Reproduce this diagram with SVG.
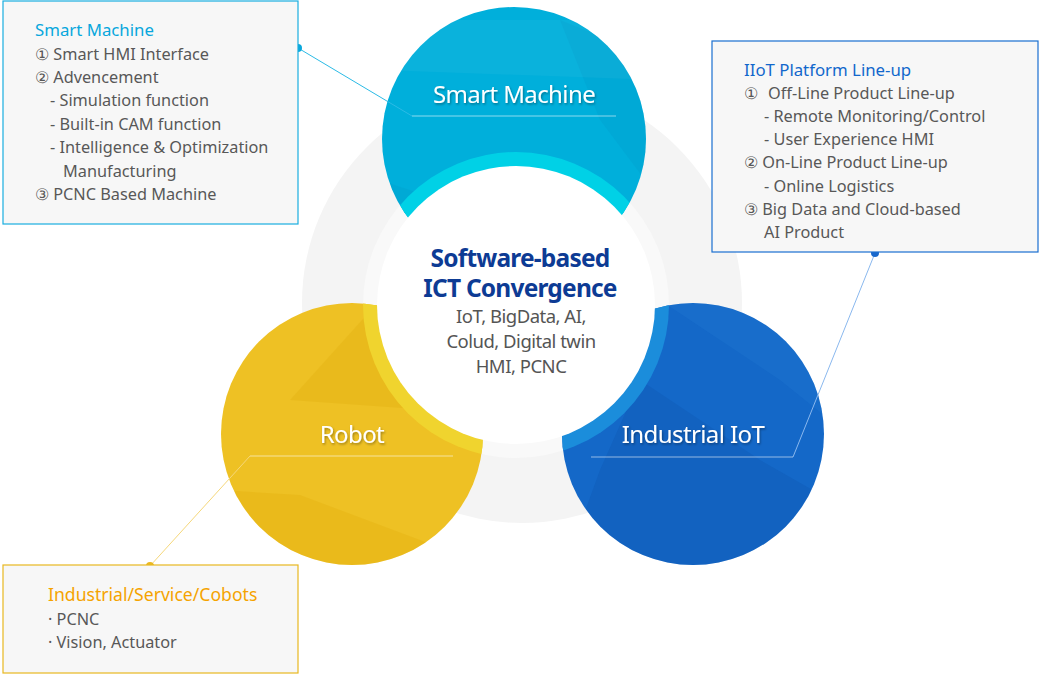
<svg xmlns="http://www.w3.org/2000/svg" width="1039" height="694" viewBox="0 0 1039 694">
<style>
.box{fill:#f7f7f7;stroke-width:1.2}
.t{font-family:"Noto Sans","Liberation Sans",sans-serif;font-size:16.3px;fill:#585858}
.h{font-family:"Noto Sans","Liberation Sans",sans-serif;font-size:16.8px}
.lbl{font-family:"Noto Sans","Liberation Sans",sans-serif;font-size:24px;fill:#fff;text-anchor:middle;letter-spacing:-0.6px}
.ct{font-family:"Noto Sans","Liberation Sans",sans-serif;text-anchor:middle}
.ul{stroke:#fff;stroke-opacity:0.55;stroke-width:1;fill:none}
</style>
<defs>
<clipPath id="cSM"><circle cx="514" cy="139" r="132"/></clipPath>
<clipPath id="cRB"><circle cx="352" cy="434" r="131"/></clipPath>
<clipPath id="cIO"><circle cx="693" cy="434" r="131"/></clipPath>
<filter id="sh" x="-10%" y="-10%" width="120%" height="140%"><feDropShadow dx="1" dy="1.5" stdDeviation="0.8" flood-color="#000" flood-opacity="0.35"/></filter>
</defs>
<rect width="1039" height="694" fill="#fff"/>
<g id="background">
<circle cx="522" cy="303" r="220" fill="#f4f4f4"/>
<circle cx="516" cy="305" r="153" fill="#f9f9f9"/>
</g>
<g id="node-smart-machine">
<circle cx="514" cy="139" r="132" fill="#00afdb"/>
<g clip-path="url(#cSM)">
<polygon points="560,20 660,60 660,200 600,120" fill="#0090c0" fill-opacity="0.18"/>
<polygon points="380,70 660,80 660,20 380,20" fill="#fff" fill-opacity="0.04"/>
<polygon points="380,180 440,200 400,260 380,260" fill="#0080b0" fill-opacity="0.12"/>
<circle cx="516" cy="305" r="153" fill="#00d1e6"/>
</g>
<text class="lbl" x="514" y="103" filter="url(#sh)">Smart Machine</text>
</g>
<g id="node-robot">
<circle cx="352" cy="434" r="131" fill="#eec124"/>
<g clip-path="url(#cRB)">
<polygon points="290,400 380,300 420,300 430,410" fill="#d9a400" fill-opacity="0.22"/>
<polygon points="220,490 300,495 420,540 520,580 220,580" fill="#e0a800" fill-opacity="0.25"/>
<polygon points="220,300 300,300 240,360 220,380" fill="#fff" fill-opacity="0.06"/>
<circle cx="516" cy="305" r="153" fill="#f0d42e"/>
</g>
<text class="lbl" x="352" y="443" filter="url(#sh)">Robot</text>
</g>
<g id="node-iiot">
<circle cx="693" cy="434" r="131" fill="#1468c8"/>
<g clip-path="url(#cIO)">
<polygon points="640,380 760,460 830,500 830,580 560,580 600,470" fill="#0a4fa8" fill-opacity="0.25"/>
<polygon points="660,300 830,300 830,420 780,380" fill="#2a80d8" fill-opacity="0.2"/>
<circle cx="516" cy="305" r="153" fill="#1b8ddb"/>
</g>
<text class="lbl" x="693" y="443" filter="url(#sh)">Industrial IoT</text>
</g>
<g id="node-center">
<circle cx="516" cy="305" r="139" fill="#fff"/>
<text class="ct" x="520" y="267" font-size="24.5" font-weight="bold" fill="#0d3b94" letter-spacing="-0.8">Software-based</text>
<text class="ct" x="520" y="297" font-size="24.5" font-weight="bold" fill="#0d3b94" letter-spacing="-0.8">ICT Convergence</text>
<text class="ct" x="521" y="323" font-size="18.5" fill="#555" letter-spacing="-0.5">IoT, BigData, AI,</text>
<text class="ct" x="521" y="348" font-size="18.5" fill="#555" letter-spacing="-0.5">Colud, Digital twin</text>
<text class="ct" x="521" y="373" font-size="18.5" fill="#555" letter-spacing="-0.5">HMI, PCNC</text>
</g>
<g id="connectors">
<polyline points="298,48 412,116" fill="none" stroke="#2bbbe6" stroke-width="1"/>
<line class="ul" x1="412" y1="116" x2="616" y2="116"/>
<circle cx="298" cy="48" r="4" fill="#0aa8dc"/>
<polyline points="150,566 250,456" fill="none" stroke="#f5d77a" stroke-width="1"/>
<line class="ul" x1="250" y1="456" x2="453" y2="456"/>
<circle cx="150" cy="566" r="4" fill="#eab820"/>
<polyline points="875,253 793,457" fill="none" stroke="#8ab8ee" stroke-width="1"/>
<line class="ul" x1="591" y1="457" x2="793" y2="457"/>
<circle cx="875" cy="253" r="4" fill="#1767cc"/>
</g>
<g id="box-smart-machine">
<rect class="box" x="3" y="1" width="295" height="223" stroke="#19aee0"/>
<text class="h" x="35" y="36" fill="#08a7dd">Smart Machine</text>
<text class="t" x="35" y="60">① Smart HMI Interface</text>
<text class="t" x="35" y="83">② Advencement</text>
<text class="t" x="50" y="106">- Simulation function</text>
<text class="t" x="50" y="130">- Built-in CAM function</text>
<text class="t" x="50" y="153">- Intelligence &amp; Optimization</text>
<text class="t" x="63" y="177">Manufacturing</text>
<text class="t" x="35" y="200">③ PCNC Based Machine</text>
</g>
<g id="box-iiot">
<rect class="box" x="712" y="41" width="326" height="211" stroke="#1a6fd0"/>
<text class="h" x="744" y="76" fill="#1167cc">IIoT Platform Line-up</text>
<text class="t" x="744" y="99">①</text>
<text class="t" x="768" y="99">Off-Line Product Line-up</text>
<text class="t" x="764" y="122">- Remote Monitoring/Control</text>
<text class="t" x="764" y="145">- User Experience HMI</text>
<text class="t" x="744" y="168">② On-Line Product Line-up</text>
<text class="t" x="764" y="192">- Online Logistics</text>
<text class="t" x="744" y="215">③ Big Data and Cloud-based</text>
<text class="t" x="764" y="238">AI Product</text>
</g>
<g id="box-robot">
<rect class="box" x="3" y="565" width="295" height="108" stroke="#e8b820"/>
<text class="h" x="48" y="601" fill="#f5a300" style="font-size:17.6px">Industrial/Service/Cobots</text>
<text class="t" x="48" y="625">· PCNC</text>
<text class="t" x="48" y="648">· Vision, Actuator</text>
</g>
</svg>
